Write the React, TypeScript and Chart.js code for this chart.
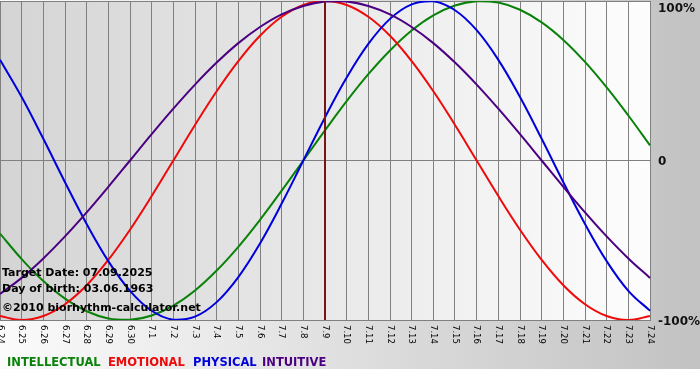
import React, { useEffect, useRef } from "react";
import { Chart, registerables } from "chart.js";

Chart.register(...registerables);

const labels = [
  "6.24", "6.25", "6.26", "6.27", "6.28", "6.29", "6.30",
  "7.1", "7.2", "7.3", "7.4", "7.5", "7.6", "7.7", "7.8", "7.9",
  "7.10", "7.11", "7.12", "7.13", "7.14", "7.15", "7.16", "7.17",
  "7.18", "7.19", "7.20", "7.21", "7.22", "7.23", "7.24",
];

const intellectual = [-45.8, -61.8, -75.6, -86.6, -94.5, -99.0, -99.9, -97.2, -91.0, -81.5, -69.0, -54.1, -37.2, -18.9, 0, 18.9, 37.2, 54.1, 69.0, 81.5, 91.0, 97.2, 99.9, 99.0, 94.5, 86.6, 75.6, 61.8, 45.8, 28.2, 9.5];
const emotional = [-97.5, -100, -97.5, -90.1, -78.2, -62.3, -43.4, -22.3, 0, 22.3, 43.4, 62.3, 78.2, 90.1, 97.5, 100, 97.5, 90.1, 78.2, 62.3, 43.4, 22.3, 0, -22.3, -43.4, -62.3, -78.2, -90.1, -97.5, -100, -97.5];
const physical = [63.1, 39.8, 13.6, -13.6, -39.8, -63.1, -81.7, -94.2, -99.8, -97.9, -88.8, -73.1, -52.0, -27.0, 0, 27.0, 52.0, 73.1, 88.8, 97.9, 99.8, 94.2, 81.7, 63.1, 39.8, 13.6, -13.6, -39.8, -63.1, -81.7, -94.2];
const intuitive = [-83.7, -73.6, -61.4, -47.6, -32.5, -16.5, 0, 16.5, 32.5, 47.6, 61.4, 73.6, 83.7, 91.6, 96.9, 99.7, 99.7, 96.9, 91.6, 83.7, 73.6, 61.4, 47.6, 32.5, 16.5, 0, -16.5, -32.5, -47.6, -61.4, -73.6];

const seriesNames = ["INTELLECTUAL", "EMOTIONAL", "PHYSICAL", "INTUITIVE"];
const seriesColors = ["#0a820a", "#ee0a0a", "#0000dd", "#4b0082"];

const yTickValues = [100, 0, -100];
const yTickLabels = ["100%", "0", "-100%"];

const targetLabel = "7.9";
const infoLines = [
  "Target Date: 07.09.2025",
  "Day of birth: 03.06.1963",
  "\u00A92010 biorhythm-calculator.net",
];

const legendX = [7, 108, 193, 262];

const decorPlugin = {
  id: "decor",
  beforeDraw(chart: any) {
    const { ctx, width, height, chartArea } = chart;
    ctx.save();
    ctx.fillStyle = "#ffffff";
    ctx.fillRect(0, 0, width, height);
    const g = ctx.createLinearGradient(0, 0, width, 0);
    g.addColorStop(0, "#fbfbfb");
    g.addColorStop(1, "#c2c2c2");
    ctx.fillStyle = g;
    ctx.fillRect(0, 0, width, 369);
    const g2 = ctx.createLinearGradient(chartArea.left, 0, chartArea.right, 0);
    g2.addColorStop(0, "#d4d4d4");
    g2.addColorStop(1, "#fdfdfd");
    ctx.fillStyle = g2;
    ctx.fillRect(chartArea.left, chartArea.top, chartArea.right - chartArea.left, chartArea.bottom - chartArea.top);
    ctx.restore();
  },
  afterDatasetsDraw(chart: any) {
    const { ctx, chartArea } = chart;
    const x = chart.scales.x.getPixelForValue(labels.indexOf(targetLabel));
    ctx.save();
    ctx.strokeStyle = "#7a1414";
    ctx.lineWidth = 2;
    ctx.beginPath();
    ctx.moveTo(x, chartArea.top);
    ctx.lineTo(x, chartArea.bottom);
    ctx.stroke();
    ctx.restore();
  },
  afterDraw(chart: any) {
    const { ctx, chartArea } = chart;
    const xs = chart.scales.x;
    const ys = chart.scales.y;
    ctx.save();
    // x tick labels rotated clockwise
    ctx.font = "8.5px 'DejaVu Sans'";
    ctx.fillStyle = "#000000";
    ctx.textAlign = "left";
    ctx.textBaseline = "middle";
    labels.forEach((lab, i) => {
      const x = xs.getPixelForValue(i);
      ctx.save();
      ctx.translate(x, chartArea.bottom + 5);
      ctx.rotate(Math.PI / 2);
      ctx.fillText(lab, 0, 0);
      ctx.restore();
    });
    // y tick labels on the right
    ctx.font = "bold 12px 'DejaVu Sans'";
    ctx.fillStyle = "#111111";
    ctx.textBaseline = "middle";
    yTickValues.forEach((v, i) => {
      const y = Math.max(ys.getPixelForValue(v), chartArea.top + 6) + 1.5;
      ctx.fillText(yTickLabels[i], chartArea.right + 8, y);
    });
    // info text
    ctx.font = "bold 11px 'DejaVu Sans'";
    ctx.fillStyle = "#000000";
    ctx.textBaseline = "alphabetic";
    const baselines = [276, 292, 311];
    infoLines.forEach((t, i) => ctx.fillText(t, 2, baselines[i]));
    // legend
    ctx.font = "bold 11.5px 'DejaVu Sans'";
    seriesNames.forEach((n, i) => {
      ctx.fillStyle = seriesColors[i];
      ctx.fillText(n, legendX[i], 366);
    });
    ctx.restore();
  },
};

export default function App() {
  const ref = useRef<HTMLCanvasElement | null>(null);
  useEffect(() => {
    document.body.style.margin = "0";
    const canvas = ref.current!;
    const seriesData = [intellectual, emotional, physical, intuitive];
    const chart = new Chart(canvas, {
      type: "line",
      data: {
        labels,
        datasets: seriesData.map((d, i) => ({
          label: seriesNames[i],
          data: d,
          borderColor: seriesColors[i],
          borderWidth: 2,
          pointRadius: 0,
          tension: 0.4,
          fill: false,
          order: 4 - i,
        })),
      },
      options: {
        responsive: false,
        animation: false,
        events: [],
        layout: { padding: { left: 0, top: 1, right: 50, bottom: 60 } },
        plugins: { legend: { display: false }, tooltip: { enabled: false } },
        scales: {
          x: {
            type: "category",
            offset: false,
            ticks: { display: false, autoSkip: false },
            grid: { color: "#808080", drawTicks: false, lineWidth: 1 },
            border: { display: true, color: "#808080" },
          },
          y: {
            position: "right",
            min: -100,
            max: 100,
            ticks: { display: false, stepSize: 100 },
            grid: { color: "#808080", drawTicks: false, lineWidth: 1 },
            border: { display: true, color: "#808080" },
          },
        },
      },
      plugins: [decorPlugin],
    });
    return () => chart.destroy();
  }, []);
  return <canvas ref={ref} width={700} height={380} style={{ display: "block" }} />;
}
